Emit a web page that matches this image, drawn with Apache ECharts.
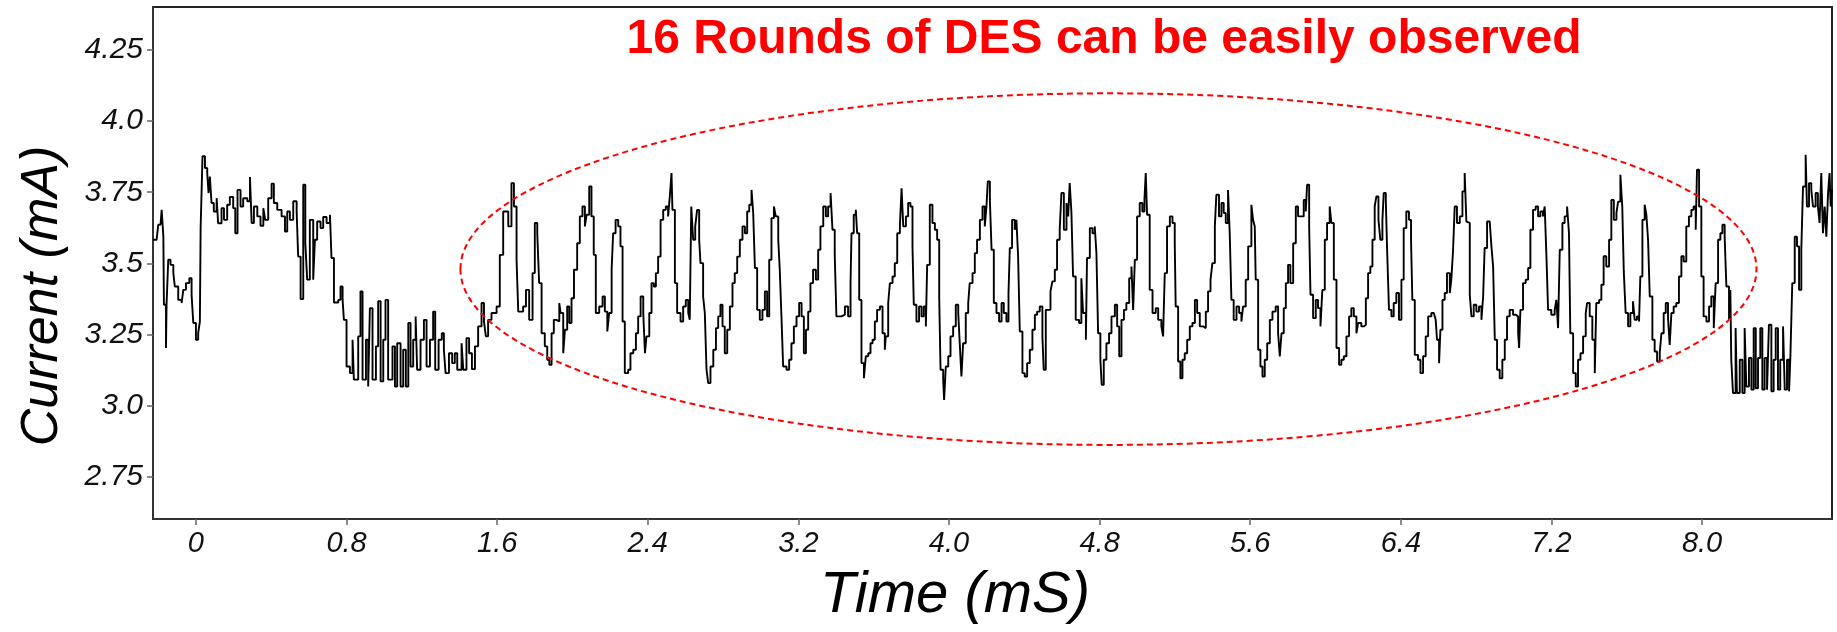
<!DOCTYPE html>
<html><head><meta charset="utf-8">
<script src="https://cdn.jsdelivr.net/npm/echarts@6/dist/echarts.min.js"></script>
<style>html,body{margin:0;padding:0;background:#fff}#c{width:1837px;height:632px}</style>
</head><body><div id="c"></div>
<script>
const titleText = '16 Rounds of DES can be easily observed';
const xTitle = 'Time (mS)';
const yTitle = 'Current (mA)';
const xTicks = [0, 0.8, 1.6, 2.4, 3.2, 4.0, 4.8, 5.6, 6.4, 7.2, 8.0];
const xTickLabels = ['0', '0.8', '1.6', '2.4', '3.2', '4.0', '4.8', '5.6', '6.4', '7.2', '8.0'];
const yTicks = [2.75, 3.0, 3.25, 3.5, 3.75, 4.0, 4.25];
const yTickLabels = ['2.75', '3.0', '3.25', '3.5', '3.75', '4.0', '4.25'];
const xRange = [-0.228, 8.69];
const yRange = [2.603, 4.40];
const ellipseCenter = [4.847, 3.48];
const ellipseRadii = [3.442, 0.617];

// [time (ms), current (mA)]
const segIdleHigh = [[-0.228,3.583],[-0.209,3.589],[-0.200,3.636],[-0.188,3.642],[-0.182,3.688],[-0.173,3.595],[-0.170,3.355],[-0.159,3.203],[-0.156,3.355],[-0.147,3.513],[-0.135,3.495],[-0.120,3.466],[-0.112,3.419],[-0.094,3.372],[-0.076,3.361],[-0.067,3.407],[-0.053,3.431],[-0.035,3.448],[-0.023,3.390],[-0.014,3.291],[0.000,3.232],[0.012,3.255],[0.021,3.296],[0.025,3.624],[0.035,3.876],[0.048,3.835],[0.060,3.817],[0.067,3.747],[0.074,3.805],[0.083,3.712],[0.095,3.682],[0.110,3.729],[0.118,3.641],[0.136,3.694],[0.149,3.653],[0.166,3.706],[0.180,3.733],[0.198,3.694],[0.209,3.606],[0.221,3.758],[0.237,3.700],[0.251,3.729],[0.273,3.718],[0.287,3.803],[0.296,3.642],[0.308,3.700],[0.326,3.665],[0.343,3.632],[0.358,3.694],[0.368,3.653],[0.384,3.729],[0.402,3.780],[0.414,3.712],[0.432,3.688],[0.455,3.665],[0.473,3.612],[0.485,3.682],[0.499,3.653],[0.517,3.718],[0.535,3.682],[0.543,3.524],[0.556,3.375],[0.570,3.776],[0.581,3.571],[0.591,3.443],[0.605,3.653],[0.623,3.443],[0.632,3.583],[0.644,3.647],[0.662,3.624],[0.676,3.663],[0.694,3.642],[0.712,3.671],[0.720,3.519],[0.733,3.363],[0.756,3.372],[0.768,3.419],[0.779,3.372],[0.786,3.302],[0.800,3.138],[0.818,3.115]];
const segIdleLow = [[0.832,3.232],[0.839,3.092],[0.862,3.244],[0.874,3.402],[0.885,3.092],[0.903,3.232],[0.915,3.068],[0.924,3.343],[0.938,3.092],[0.956,3.209],[0.968,3.367],[0.981,3.086],[0.995,3.232],[1.007,3.372],[1.021,3.092],[1.044,3.209],[1.057,3.068],[1.069,3.220],[1.087,3.068],[1.101,3.197],[1.115,3.068],[1.128,3.291],[1.140,3.138],[1.154,3.232],[1.167,3.314],[1.175,3.127],[1.193,3.232],[1.211,3.302],[1.225,3.138],[1.243,3.232],[1.260,3.331],[1.271,3.127],[1.289,3.232],[1.306,3.255],[1.317,3.197],[1.326,3.115],[1.344,3.185],[1.361,3.150],[1.375,3.185],[1.388,3.127],[1.411,3.220],[1.420,3.127],[1.437,3.238],[1.451,3.185],[1.466,3.129],[1.482,3.209]];
const segRoundsA = [[1.499,3.279],[1.517,3.361],[1.530,3.296],[1.540,3.244],[1.552,3.302],[1.570,3.326],[1.597,3.349],[1.614,3.530],[1.632,3.682],[1.659,3.630],[1.676,3.782],[1.689,3.700],[1.703,3.513],[1.712,3.331],[1.738,3.349],[1.753,3.407],[1.770,3.302],[1.788,3.466],[1.800,3.642],[1.813,3.606],[1.823,3.431],[1.836,3.255],[1.853,3.209],[1.866,3.162],[1.877,3.144],[1.889,3.255],[1.901,3.302],[1.915,3.296],[1.930,3.361],[1.937,3.326],[1.951,3.185],[1.960,3.267],[1.972,3.349],[1.983,3.291],[1.995,3.378],[2.008,3.478],[2.025,3.571],[2.039,3.665],[2.053,3.700],[2.066,3.630],[2.075,3.671],[2.089,3.770],[2.101,3.665],[2.113,3.530],[2.124,3.326],[2.142,3.349],[2.160,3.384],[2.172,3.331],[2.185,3.261],[2.195,3.326],[2.208,3.478],[2.216,3.606],[2.229,3.653],[2.243,3.630],[2.255,3.560],[2.266,3.296],[2.278,3.115],[2.296,3.127],[2.308,3.185],[2.323,3.197],[2.337,3.255],[2.349,3.314],[2.362,3.384],[2.376,3.326],[2.385,3.185],[2.393,3.244],[2.408,3.326],[2.420,3.431],[2.432,3.419],[2.443,3.466],[2.455,3.524],[2.468,3.653],[2.482,3.688],[2.496,3.700],[2.508,3.665],[2.517,3.735],[2.526,3.817],[2.531,3.688],[2.544,3.431],[2.556,3.326],[2.574,3.296],[2.588,3.349],[2.602,3.372],[2.615,3.326],[2.623,3.302],[2.631,3.700],[2.641,3.583],[2.652,3.630],[2.662,3.688],[2.673,3.583],[2.680,3.501],[2.694,3.384],[2.703,3.326],[2.712,3.127],[2.721,3.080],[2.733,3.138],[2.748,3.197],[2.762,3.273],[2.774,3.314],[2.786,3.355],[2.797,3.279],[2.809,3.185],[2.822,3.267],[2.836,3.349],[2.850,3.431],[2.862,3.466],[2.875,3.524],[2.889,3.583],[2.903,3.630],[2.916,3.606],[2.928,3.682],[2.939,3.706],[2.951,3.758],[2.960,3.677],[2.969,3.484],[2.981,3.337],[2.995,3.302],[3.009,3.337],[3.022,3.402],[3.034,3.314],[3.045,3.513],[3.057,3.659],[3.070,3.700],[3.080,3.665],[3.093,3.583],[3.101,3.478],[3.110,3.314],[3.119,3.138],[3.137,3.127],[3.151,3.162],[3.163,3.220],[3.176,3.279],[3.190,3.314],[3.204,3.361],[3.217,3.314],[3.229,3.185],[3.240,3.267],[3.252,3.331],[3.264,3.431],[3.278,3.478],[3.293,3.443],[3.305,3.548],[3.317,3.630],[3.332,3.700],[3.346,3.665],[3.358,3.700],[3.371,3.747],[3.381,3.618],[3.393,3.530],[3.402,3.314],[3.429,3.320],[3.447,3.349],[3.464,3.314]];
const segRoundsB = [[3.477,3.431],[3.482,3.606],[3.494,3.671],[3.505,3.688],[3.512,3.606],[3.523,3.372],[3.535,3.150],[3.548,3.097],[3.558,3.174],[3.571,3.185],[3.583,3.220],[3.594,3.232],[3.606,3.296],[3.618,3.337],[3.633,3.349],[3.647,3.255],[3.659,3.197],[3.664,3.244],[3.677,3.361],[3.686,3.431],[3.700,3.454],[3.712,3.501],[3.725,3.606],[3.739,3.630],[3.748,3.764],[3.757,3.630],[3.771,3.665],[3.783,3.712],[3.795,3.700],[3.806,3.560],[3.813,3.355],[3.827,3.296],[3.841,3.349],[3.854,3.314],[3.866,3.349],[3.877,3.279],[3.884,3.495],[3.898,3.706],[3.912,3.642],[3.925,3.618],[3.937,3.583],[3.948,3.378],[3.955,3.127],[3.969,3.092],[3.974,3.021],[3.983,3.138],[3.996,3.174],[4.008,3.244],[4.022,3.279],[4.036,3.355],[4.049,3.326],[4.057,3.220],[4.066,3.103],[4.075,3.220],[4.089,3.326],[4.102,3.361],[4.110,3.431],[4.125,3.466],[4.137,3.536],[4.149,3.583],[4.164,3.653],[4.178,3.700],[4.190,3.630],[4.199,3.700],[4.206,3.788],[4.217,3.723],[4.226,3.548],[4.238,3.361],[4.252,3.326],[4.266,3.296],[4.279,3.361],[4.291,3.326],[4.305,3.296],[4.316,3.396],[4.323,3.554],[4.335,3.653],[4.349,3.618],[4.358,3.653],[4.367,3.525],[4.376,3.261],[4.390,3.115],[4.402,3.103],[4.415,3.150],[4.429,3.197],[4.443,3.267],[4.456,3.320],[4.468,3.331],[4.482,3.349],[4.496,3.244],[4.503,3.127],[4.514,3.337],[4.526,3.337],[4.539,3.402],[4.549,3.437],[4.562,3.478],[4.574,3.583],[4.588,3.618],[4.597,3.747],[4.610,3.618],[4.624,3.712],[4.633,3.665],[4.641,3.782],[4.650,3.682],[4.659,3.454],[4.673,3.302],[4.691,3.291],[4.703,3.448],[4.712,3.326],[4.727,3.232],[4.733,3.519],[4.748,3.624],[4.762,3.606],[4.774,3.630],[4.783,3.536],[4.792,3.255],[4.804,3.162],[4.811,3.074],[4.822,3.162],[4.836,3.220],[4.850,3.255],[4.863,3.314],[4.881,3.355],[4.893,3.279],[4.904,3.174],[4.916,3.302],[4.929,3.337],[4.942,3.361],[4.957,3.448],[4.969,3.489],[4.978,3.337],[4.987,3.513],[4.999,3.665],[5.013,3.712],[5.027,3.682],[5.038,3.723],[5.045,3.817],[5.052,3.671],[5.066,3.407],[5.081,3.326],[5.098,3.343],[5.111,3.302],[5.128,3.279],[5.137,3.244],[5.146,3.466],[5.158,3.630],[5.173,3.665],[5.187,3.642],[5.199,3.571],[5.204,3.349],[5.217,3.156],[5.229,3.097],[5.240,3.162],[5.252,3.185],[5.265,3.232],[5.279,3.279],[5.293,3.291],[5.306,3.372],[5.318,3.326],[5.332,3.279],[5.350,3.273],[5.364,3.331],[5.376,3.402],[5.389,3.443],[5.399,3.501],[5.412,3.630],[5.420,3.741],[5.434,3.665],[5.447,3.712],[5.459,3.677],[5.470,3.642],[5.482,3.758],[5.491,3.606],[5.500,3.372],[5.512,3.302],[5.527,3.349],[5.541,3.326],[5.553,3.296],[5.562,3.349],[5.576,3.443],[5.589,3.560]];
const segRoundsC = [[5.606,3.706],[5.615,3.653],[5.624,3.630],[5.629,3.443],[5.642,3.197],[5.654,3.138],[5.665,3.103],[5.677,3.162],[5.690,3.220],[5.704,3.302],[5.718,3.331],[5.735,3.349],[5.748,3.255],[5.757,3.174],[5.766,3.255],[5.778,3.343],[5.789,3.431],[5.801,3.495],[5.813,3.431],[5.828,3.571],[5.842,3.700],[5.854,3.665],[5.872,3.665],[5.884,3.723],[5.895,3.682],[5.902,3.776],[5.913,3.624],[5.920,3.390],[5.934,3.308],[5.948,3.372],[5.960,3.343],[5.973,3.279],[5.983,3.407],[5.996,3.583],[6.008,3.642],[6.022,3.700],[6.031,3.642],[6.044,3.443],[6.058,3.203],[6.072,3.144],[6.084,3.162],[6.097,3.174],[6.111,3.244],[6.125,3.314],[6.137,3.343],[6.150,3.314],[6.164,3.255],[6.173,3.291],[6.190,3.279],[6.203,3.285],[6.214,3.378],[6.226,3.466],[6.238,3.489],[6.249,3.583],[6.261,3.700],[6.270,3.735],[6.281,3.653],[6.291,3.583],[6.302,3.653],[6.309,3.747],[6.320,3.723],[6.327,3.548],[6.337,3.337],[6.350,3.314],[6.362,3.361],[6.376,3.396],[6.390,3.302],[6.403,3.443],[6.415,3.624],[6.429,3.682],[6.443,3.653],[6.454,3.583],[6.461,3.372],[6.474,3.179],[6.491,3.162],[6.504,3.115],[6.518,3.174],[6.532,3.244],[6.545,3.314],[6.562,3.326],[6.575,3.326],[6.585,3.302],[6.592,3.232],[6.603,3.150],[6.610,3.267],[6.621,3.372],[6.633,3.396],[6.645,3.466]];
const segRoundsD = [[6.660,3.396],[6.668,3.443],[6.677,3.542],[6.686,3.700],[6.698,3.642],[6.713,3.665],[6.727,3.753],[6.739,3.817],[6.748,3.647],[6.757,3.642],[6.766,3.390],[6.775,3.314],[6.787,3.355],[6.801,3.331],[6.815,3.349],[6.828,3.302],[6.837,3.384],[6.845,3.554],[6.858,3.647],[6.872,3.642],[6.881,3.560],[6.890,3.489],[6.899,3.232],[6.911,3.127],[6.925,3.097],[6.939,3.162],[6.952,3.232],[6.964,3.314],[6.978,3.337],[6.996,3.320],[7.010,3.314],[7.023,3.255],[7.028,3.203],[7.035,3.337],[7.049,3.431],[7.063,3.443],[7.076,3.484],[7.088,3.618],[7.102,3.688],[7.116,3.700],[7.129,3.665],[7.141,3.682],[7.155,3.665],[7.164,3.700],[7.173,3.530],[7.182,3.337],[7.199,3.320],[7.217,3.337],[7.226,3.372],[7.235,3.273],[7.244,3.548],[7.258,3.642],[7.270,3.665],[7.283,3.700],[7.293,3.606],[7.300,3.255],[7.315,3.115],[7.329,3.068],[7.341,3.162],[7.354,3.185],[7.368,3.244],[7.382,3.326],[7.389,3.361],[7.403,3.314],[7.417,3.232],[7.430,3.115],[7.438,3.361],[7.453,3.372],[7.465,3.425],[7.477,3.525],[7.491,3.489],[7.506,3.583],[7.518,3.723],[7.531,3.653],[7.545,3.677],[7.554,3.717],[7.566,3.811],[7.576,3.700],[7.584,3.472],[7.594,3.326],[7.607,3.279],[7.619,3.326],[7.633,3.367],[7.642,3.302],[7.654,3.314],[7.665,3.296],[7.672,3.454],[7.683,3.653],[7.695,3.706],[7.704,3.671],[7.713,3.583],[7.722,3.384],[7.736,3.232],[7.748,3.191],[7.761,3.156],[7.775,3.185],[7.784,3.255],[7.796,3.326],[7.807,3.361],[7.819,3.308],[7.828,3.214],[7.837,3.326],[7.849,3.349],[7.863,3.361],[7.877,3.454],[7.890,3.525],[7.902,3.507],[7.916,3.630],[7.930,3.665],[7.943,3.688],[7.955,3.700],[7.966,3.618],[7.973,3.829],[7.984,3.700],[7.996,3.454],[8.008,3.314],[8.023,3.296],[8.037,3.349],[8.049,3.384],[8.062,3.273],[8.072,3.431],[8.085,3.583],[8.097,3.606],[8.108,3.636],[8.120,3.589],[8.129,3.419],[8.143,3.302],[8.150,3.407],[8.155,3.162],[8.164,3.045]];
const segIdleEnd = [[8.178,3.273],[8.185,3.045],[8.200,3.162],[8.214,3.045],[8.226,3.273],[8.235,3.068],[8.249,3.168],[8.262,3.057],[8.274,3.273],[8.285,3.062],[8.297,3.168],[8.309,3.273],[8.320,3.057],[8.332,3.168],[8.345,3.057],[8.355,3.285],[8.368,3.051],[8.380,3.162],[8.391,3.273],[8.403,3.057],[8.415,3.162],[8.430,3.279],[8.439,3.057],[8.451,3.162],[8.462,3.051],[8.469,3.174],[8.479,3.431],[8.492,3.594],[8.504,3.560],[8.515,3.407],[8.527,3.548],[8.536,3.770],[8.550,3.881],[8.557,3.700],[8.568,3.782],[8.580,3.758],[8.589,3.700],[8.603,3.747],[8.615,3.700],[8.624,3.642],[8.633,3.817],[8.642,3.606],[8.651,3.700],[8.660,3.594],[8.669,3.747],[8.677,3.817],[8.683,3.700],[8.690,3.760]];

const trace = [].concat(segIdleHigh, segIdleLow, segRoundsA, segRoundsB, segRoundsC, segRoundsD, segIdleEnd);

const FONT = '"Liberation Sans", Arial, Helvetica, sans-serif';
const chart = echarts.init(document.getElementById('c'), null, {renderer: 'canvas'});

function lookup(ticks, labels, v) {
  const i = ticks.findIndex(t => Math.abs(t - v) < 1e-6);
  return i >= 0 ? labels[i] : '';
}

chart.setOption({
  animation: false,
  backgroundColor: '#ffffff',
  grid: {left: 153, right: 5, top: 7, bottom: 113, show: true, borderColor: '#222', borderWidth: 2, containLabel: false},
  xAxis: {
    type: 'value', min: xRange[0], max: xRange[1],
    axisLine: {show: true, onZero: false, lineStyle: {color: '#333', width: 2}},
    axisTick: {show: true, length: 6, customValues: xTicks, lineStyle: {color: '#666', width: 1.5}},
    axisLabel: {show: true, customValues: xTicks, margin: 10, fontSize: 29, fontStyle: 'italic', fontFamily: FONT, color: '#111',
      formatter: v => lookup(xTicks, xTickLabels, v)},
    splitLine: {show: false}
  },
  yAxis: {
    type: 'value', min: yRange[0], max: yRange[1],
    axisLine: {show: true, onZero: false, lineStyle: {color: '#333', width: 2}},
    axisTick: {show: true, length: 6, customValues: yTicks, lineStyle: {color: '#666', width: 1.5}},
    axisLabel: {show: true, customValues: yTicks, margin: 10, fontSize: 30, fontStyle: 'italic', fontFamily: FONT, color: '#111',
      formatter: v => lookup(yTicks, yTickLabels, v)},
    splitLine: {show: false}
  },
  series: [{
    type: 'line', data: trace, step: 'end', showSymbol: false, symbol: 'none',
    lineStyle: {color: '#000', width: 1.9}, clip: true, z: 3
  }]
});

const c = chart.convertToPixel({gridIndex: 0}, ellipseCenter);
const e = chart.convertToPixel({gridIndex: 0}, [ellipseCenter[0] + ellipseRadii[0], ellipseCenter[1] + ellipseRadii[1]]);

chart.setOption({
  graphic: [
    {type: 'ellipse', silent: true, z: 10,
     shape: {cx: c[0], cy: c[1], rx: Math.abs(e[0] - c[0]), ry: Math.abs(c[1] - e[1])},
     style: {fill: 'none', stroke: '#ff0000', lineWidth: 2, lineDash: [6, 4]}},
    {type: 'text', silent: true, z: 10, x: 1104, y: 40,
     style: {text: titleText, fill: '#ff0000', font: 'bold 48px ' + FONT, align: 'center', verticalAlign: 'middle', textAlign: 'center', textVerticalAlign: 'middle'}},
    {type: 'text', silent: true, z: 10, x: 955, y: 596,
     style: {text: xTitle, fill: '#000', font: 'italic 58px ' + FONT, align: 'center', verticalAlign: 'middle', textAlign: 'center', textVerticalAlign: 'middle'}},
    {type: 'text', silent: true, z: 10, x: 43, y: 296, rotation: Math.PI / 2,
     style: {text: yTitle, fill: '#000', font: 'italic 52px ' + FONT, align: 'center', verticalAlign: 'middle', textAlign: 'center', textVerticalAlign: 'middle'}}
  ]
});
</script>
</body></html>
